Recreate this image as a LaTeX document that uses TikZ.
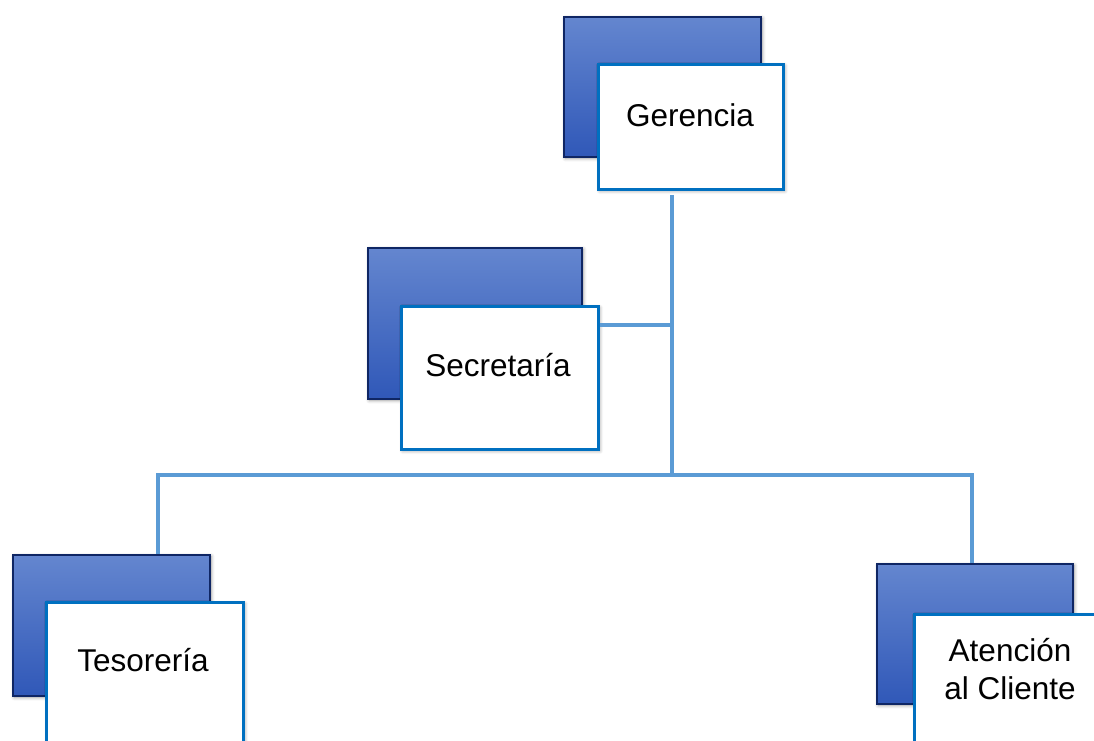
\documentclass[tikz,border=0pt]{standalone}
\usepackage{fontspec}
\setmainfont{Liberation Sans}
\usetikzlibrary{shadows.blur}
\definecolor{linec}{RGB}{91,155,213}
\definecolor{frontc}{RGB}{0,112,192}
\definecolor{backtop}{RGB}{100,134,207}
\definecolor{backbot}{RGB}{48,88,184}
\definecolor{backdraw}{RGB}{15,38,100}
\begin{document}
\begin{tikzpicture}[x=1pt,y=-1pt,
  shad/.style={blur shadow={shadow xshift=1.5pt,shadow yshift=-1.5pt,shadow blur steps=6,shadow opacity=40,shadow blur radius=3.5pt}},
  backbox/.style={draw=backdraw,line width=1.5pt,top color=backtop,bottom color=backbot,anchor=north west,inner sep=0pt,shad},
  frontbox/.style={draw=frontc,line width=2.5pt,fill=white,anchor=north west,inner sep=0pt,shad},
  conn/.style={draw=linec,line width=4.8pt},
  lbl/.style={font=\fontsize{31.5}{38}\selectfont,align=center,inner sep=0pt}]
\useasboundingbox (0,0) rectangle (1094,740);
\clip (0,0) rectangle (1094,740);
% Gerencia
\node[backbox,minimum width=197pt,minimum height=140pt] (gerb) at (563,16) {};
\node[frontbox,minimum width=185pt,minimum height=125pt] (ger) at (597,63) {};
\node[lbl] (gert) at (690,115) {Gerencia};
% Secretaria
\node[backbox,minimum width=214pt,minimum height=151pt] (secb) at (367,247) {};
\node[frontbox,minimum width=197pt,minimum height=143pt] (sec) at (400,305) {};
\node[lbl] (sect) at (498,365) {Secretaría};
% Tesoreria
\node[backbox,minimum width=197pt,minimum height=141pt] (tesb) at (12,554) {};
\node[frontbox,minimum width=197pt,minimum height=170pt] (tes) at (45,601) {};
\node[lbl] (test) at (143,660) {Tesorería};
% Atencion
\node[backbox,minimum width=196pt,minimum height=140pt] (atb) at (876,563) {};
\node[frontbox,minimum width=200pt,minimum height=160pt] (at) at (913,613) {};
\node[lbl] (att) at (1010,669) {Atención\\al Cliente};
% junctions
\coordinate (j1) at (672,325);
\coordinate (j2) at (672,475);
\coordinate (jl) at (158,475);
\coordinate (jr) at (972,475);
\coordinate (gtop) at (672,195);
% connectors
\draw[conn] (gtop) -- (j2);
\draw[conn] (sec.east |- j1) -- (j1);
\draw[conn] (tesb.north -| jl) -- (jl) -- (jr) -- (atb.north -| jr);
\end{tikzpicture}
\end{document}
